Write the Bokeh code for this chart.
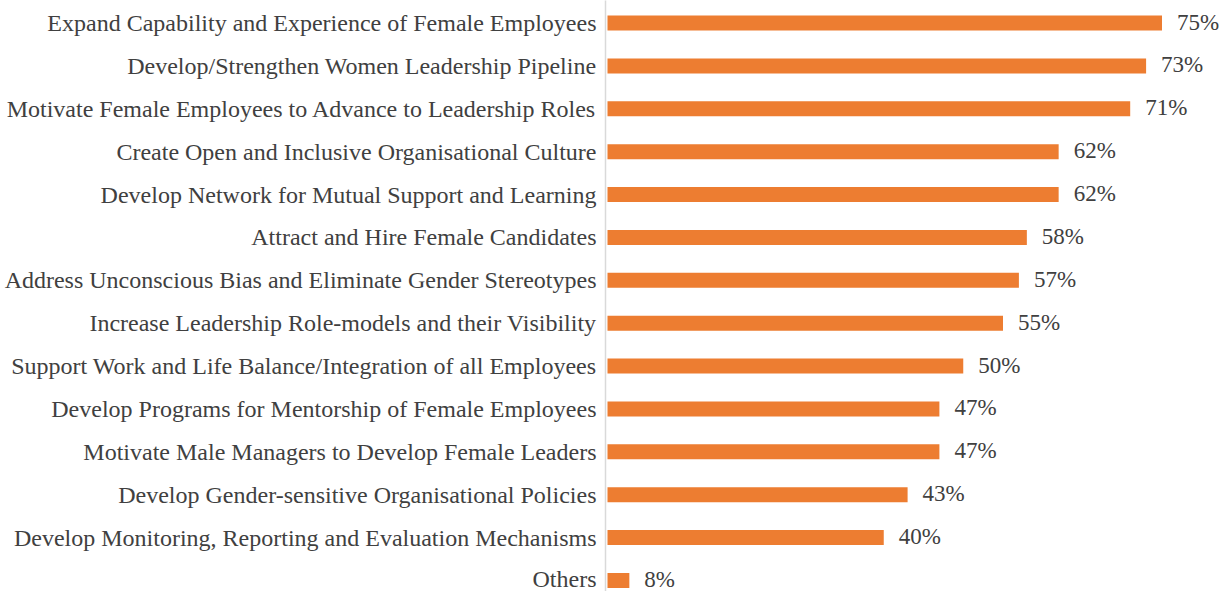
from bokeh.plotting import figure
from bokeh.models import Range1d, ColumnDataSource, FixedTicker
from bokeh.core.properties import value
from bokeh.embed import file_html
from bokeh.resources import INLINE

categories = [
    "Expand Capability and Experience of Female Employees",
    "Develop/Strengthen Women Leadership Pipeline",
    "Motivate Female Employees to Advance to Leadership Roles",
    "Create Open and Inclusive Organisational Culture",
    "Develop Network for Mutual Support and Learning",
    "Attract and Hire Female Candidates",
    "Address Unconscious Bias and Eliminate Gender Stereotypes",
    "Increase Leadership Role-models and their Visibility",
    "Support Work and Life Balance/Integration of all Employees",
    "Develop Programs for Mentorship of Female Employees",
    "Motivate Male Managers to Develop Female Leaders",
    "Develop Gender-sensitive Organisational Policies",
    "Develop Monitoring, Reporting and Evaluation Mechanisms",
    "Others",
]
values = [75, 73, 71, 62, 62, 58, 57, 55, 50, 47, 47, 43, 40, 8]
labels = [f"{v}%" for v in values]

n = len(categories)
ypos = [n - 1 - i for i in range(n)]

FONT = "Liberation Serif"
TXT = "#404040"
BAR = "#ED7D31"

src = ColumnDataSource(dict(y=ypos, v=values, lab=labels))

X0 = 5.0
PX = 7.95
p = figure(
    width=1231, height=591,
    x_range=Range1d(X0, X0 + 626 / PX),
    y_range=Range1d(-0.2565, 13.526),
    output_backend="svg", toolbar_location=None,
    min_border_left=605, min_border_right=0, min_border_top=0, min_border_bottom=0,
)
p.outline_line_color = None
p.background_fill_color = "white"
p.border_fill_color = "white"
p.xgrid.visible = False
p.ygrid.visible = False
p.xaxis.visible = False

p.hbar(y="y", left=X0 + 0.25, right="v", height=0.35, source=src,
       fill_color=BAR, line_color=None)
p.text(x="v", y="y", text="lab", source=src, x_offset=15, y_offset=-1,
       text_align="left", text_baseline="middle",
       text_font=value(FONT), text_font_size="23px", text_color=TXT)

ax = p.yaxis[0]
ax.ticker = FixedTicker(ticks=ypos)
ax.major_label_overrides = {y: c for y, c in zip(ypos, categories)}
ax.major_tick_line_color = None
ax.minor_tick_line_color = None
ax.major_tick_out = 0
ax.major_tick_in = 0
ax.axis_line_color = "#D9D9D9"
ax.axis_line_width = 1.5
ax.major_label_text_font = FONT
ax.major_label_text_font_size = "24px"
ax.major_label_text_color = TXT
ax.major_label_standoff = 9

open("out.html", "w").write(file_html(p, INLINE))
